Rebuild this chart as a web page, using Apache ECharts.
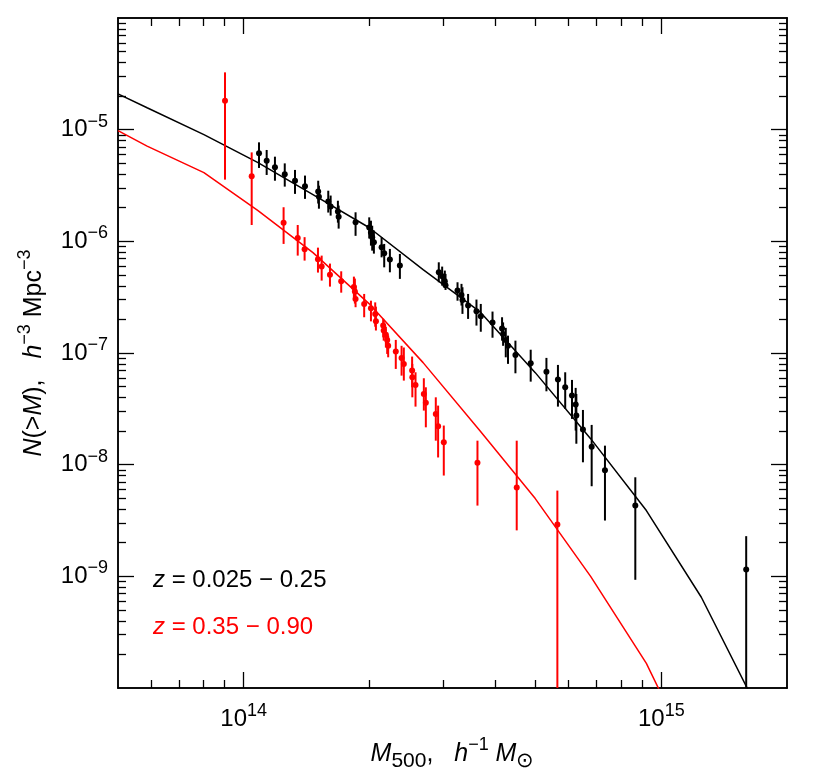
<!DOCTYPE html>
<html><head><meta charset="utf-8">
<script src="https://cdn.jsdelivr.net/npm/echarts@6/dist/echarts.min.js"></script>
<style>html,body{margin:0;padding:0;background:#fff}#c{width:830px;height:778px}</style>
</head><body><div id="c"></div>
<script>
// ---------- data (mass in units of 1e14 h^-1 Msun, N in h^3 Mpc^-3) ----------
const blackMass = [1.088,1.135,1.188,1.254,1.327,1.402,1.508,1.514,1.594,1.615,1.681,1.688,1.853,1.998,2.017,2.031,2.050,2.139,2.170,2.239,2.366,2.932,2.987,3.031,3.043,3.251,3.323,3.341,3.446,3.609,3.696,3.943,4.156,4.180,4.242,4.295,4.474,4.867,5.308,5.656,5.887,6.111,6.237,6.26,6.492,6.812,7.330,8.665,15.97];
const blackN = [6.14e-6,5.28e-6,4.60e-6,3.98e-6,3.49e-6,3.11e-6,2.79e-6,2.51e-6,2.27e-6,2.05e-6,1.85e-6,1.66e-6,1.48e-6,1.33e-6,1.20e-6,1.09e-6,9.80e-7,8.84e-7,7.81e-7,6.86e-7,6.06e-7,5.28e-7,4.86e-7,4.39e-7,4.04e-7,3.62e-7,3.31e-7,2.99e-7,2.66e-7,2.36e-7,2.13e-7,1.88e-7,1.66e-7,1.48e-7,1.31e-7,1.16e-7,9.62e-8,8.09e-8,6.81e-8,5.78e-8,4.93e-8,4.16e-8,3.45e-8,2.75e-8,2.07e-8,1.45e-8,8.91e-9,4.30e-9,1.15e-9];
const blackUpper = [7.70e-6,6.58e-6,5.73e-6,4.99e-6,4.36e-6,3.88e-6,3.49e-6,3.15e-6,2.84e-6,2.57e-6,2.31e-6,2.09e-6,1.82e-6,1.64e-6,1.53e-6,1.38e-6,1.25e-6,1.09e-6,9.48e-7,8.55e-7,7.71e-7,6.49e-7,5.94e-7,5.47e-7,5.11e-7,4.30e-7,4.16e-7,3.88e-7,3.38e-7,3.01e-7,2.75e-7,2.35e-7,2.09e-7,1.88e-7,1.68e-7,1.43e-7,1.29e-7,1.07e-7,9.04e-8,7.82e-8,6.72e-8,5.74e-8,4.87e-8,4.30e-8,3.09e-8,2.27e-8,1.48e-8,7.71e-9,2.29e-9];
const blackLower = [4.54e-6,3.93e-6,3.49e-6,3.09e-6,2.66e-6,2.40e-6,2.18e-6,1.96e-6,1.81e-6,1.70e-6,1.47e-6,1.30e-6,1.12e-6,1.06e-6,9.15e-7,8.25e-7,7.76e-7,7.19e-7,5.85e-7,5.28e-7,4.61e-7,4.30e-7,4.01e-7,3.88e-7,3.67e-7,2.94e-7,2.66e-7,2.24e-7,2.02e-7,1.76e-7,1.55e-7,1.37e-7,1.29e-7,1.16e-7,9.15e-8,7.99e-8,6.58e-8,5.54e-8,4.54e-8,3.31e-8,3.16e-8,2.57e-8,2.02e-8,1.54e-8,1.05e-8,6.41e-9,3.16e-9,9.31e-10,5e-11];

const redMass = [0.902,1.045,1.246,1.347,1.399,1.506,1.537,1.609,1.712,1.836,1.846,1.853,1.943,2.017,2.065,2.073,2.158,2.164,2.190,2.206,2.218,2.313,2.388,2.418,2.531,2.534,2.579,2.700,2.730,2.884,2.921,3.014,3.629,4.506,5.638];
const redN = [1.82e-5,3.82e-6,1.47e-6,1.07e-6,8.51e-7,6.90e-7,5.94e-7,5.03e-7,4.40e-7,3.89e-7,3.55e-7,3.05e-7,2.75e-7,2.51e-7,2.24e-7,1.92e-7,1.76e-7,1.59e-7,1.45e-7,1.31e-7,1.16e-7,1.03e-7,9.04e-8,7.99e-8,6.96e-8,6.06e-8,5.18e-8,4.30e-8,3.58e-8,2.85e-8,2.21e-8,1.59e-8,1.04e-8,6.24e-9,2.91e-9];
const redUpper = [3.26e-5,6.26e-6,2.02e-6,1.40e-6,1.09e-6,8.78e-7,7.45e-7,6.32e-7,5.39e-7,4.83e-7,4.64e-7,4.01e-7,3.38e-7,2.94e-7,2.84e-7,2.60e-7,2.03e-7,1.95e-7,1.72e-7,1.53e-7,1.43e-7,1.31e-7,1.16e-7,1.12e-7,9.29e-8,7.99e-8,6.72e-8,5.94e-8,4.93e-8,4.01e-8,3.38e-8,2.24e-8,1.64e-8,1.64e-8,5.86e-9];
const redLower = [3.57e-6,1.40e-6,9.48e-7,7.45e-7,6.72e-7,5.25e-7,4.45e-7,3.93e-7,3.47e-7,2.94e-7,2.77e-7,2.57e-7,2.09e-7,1.92e-7,1.72e-7,1.59e-7,1.38e-7,1.29e-7,1.12e-7,9.81e-8,9.15e-8,7.20e-8,6.27e-8,5.66e-8,4.93e-8,4.01e-8,3.31e-8,3.05e-8,2.16e-8,1.64e-8,1.16e-8,7.99e-9,4.30e-9,2.58e-9,5e-11];

const modelMass = [0.5,0.587,0.803,1.082,1.465,1.995,2.689,3.675,4.991,6.773,9.21,12.47,16.9];
const modelLowZ = [2.09e-5,1.57e-5,9.02e-6,5.07e-6,2.62e-6,1.33e-6,5.58e-7,2.35e-7,6.67e-8,1.71e-8,3.88e-9,6.50e-10,6.83e-11];
const modelHighZ = [9.8e-6,7.12e-6,4.12e-6,1.88e-6,7.92e-7,2.77e-7,8.20e-8,2.02e-8,4.97e-9,1.0e-9,1.66e-10,1.61e-11,1.5e-12];

const xRange = [5e13, 2e15];
const yRange = [1e-10, 1e-4];
const xMajorTicks = [1e14, 1e15];
const xMinorTicks = [6e13,7e13,8e13,9e13,2e14,3e14,4e14,5e14,6e14,7e14,8e14,9e14];
const yMajorTicks = [1e-9,1e-8,1e-7,1e-6,1e-5];
const yMinorMantissas = [2,3,4,5,6,7,8,9];
const yMinorDecades = [1e-10,1e-9,1e-8,1e-7,1e-6,1e-5];
const legendLabels = ['0.025 − 0.25', '0.35 − 0.90'];
const xTitle = '{i|M}{sub|500}{n|,   }{i|h}{sup|−1}{n| }{i|M}{sub|⊙}';
const yTitle = '{i|N}{n|(>}{i|M}{n|),   }{i|h}{sup|−3}{n| Mpc}{sup|−3}';

// ---------- build ----------
const L = Math.log10;
const MASS_UNIT = 1e14;
const FONT = "'Liberation Sans', Arial, sans-serif";
const BLACK = '#000000', RED = '#ff0000';

const yMinorTicks = [];
yMinorDecades.forEach(d => yMinorMantissas.forEach(m => yMinorTicks.push(m * d)));

const richTick = {
  b: {fontFamily: FONT, fontSize: 24, color: BLACK},
  s: {fontFamily: FONT, fontSize: 18, color: BLACK, padding: [0, 0, 16, 0]}
};
const richTitle = {
  i: {fontFamily: FONT, fontSize: 25, fontStyle: 'italic', color: BLACK},
  n: {fontFamily: FONT, fontSize: 25, color: BLACK},
  sub: {fontFamily: FONT, fontSize: 21, color: BLACK, padding: [14, 0, 0, 0]},
  sup: {fontFamily: FONT, fontSize: 18, color: BLACK, padding: [0, 0, 18, 0]}
};

function axis(kind, pos, ticks, len, label, extra) {
  const r = kind === 'x' ? xRange : yRange;
  return Object.assign({
    type: 'value', position: pos, min: L(r[0]), max: L(r[1]),
    axisLine: {show: true, onZero: false, lineStyle: {color: BLACK, width: 1.5}},
    axisTick: {show: true, inside: true, length: len, customValues: ticks.map(L),
      lineStyle: {color: BLACK, width: 1.3}},
    axisLabel: label ? Object.assign({show: true, rich: richTick}, label) : {show: false},
    splitLine: {show: false}
  }, extra || {});
}

const xAxes = [
  axis('x', 'bottom', xMajorTicks, 16, {
    customValues: xMajorTicks.map(L), margin: 14,
    formatter: v => '{b|10}{s|' + Math.round(v) + '}'
  }, {
    name: xTitle, nameLocation: 'middle', nameGap: 43,
    nameTextStyle: {fontFamily: FONT, fontSize: 25, color: BLACK, rich: richTitle}
  }),
  axis('x', 'bottom', xMinorTicks, 8, null),
  axis('x', 'top', xMajorTicks, 16, null),
  axis('x', 'top', xMinorTicks, 8, null)
];
const yAxes = [
  axis('y', 'left', yMajorTicks, 16, {
    customValues: yMajorTicks.map(L), margin: 10,
    formatter: v => '{b|10}{s|−' + Math.abs(Math.round(v)) + '}'
  }, {
    name: yTitle, nameLocation: 'middle', nameGap: 66,
    nameTextStyle: {fontFamily: FONT, fontSize: 25, color: BLACK, rich: richTitle}
  }),
  axis('y', 'left', yMinorTicks, 8, null),
  axis('y', 'right', yMajorTicks, 16, null),
  axis('y', 'right', yMinorTicks, 8, null)
];

function errData(mass, n, up, lo) {
  return mass.map((m, i) => [L(m * MASS_UNIT), L(n[i]), L(up[i]), L(lo[i])]);
}
function errSeries(name, data, color) {
  return {
    type: 'custom', name, xAxisIndex: 0, yAxisIndex: 0, clip: true, z: 3,
    data,
    renderItem: (params, api) => {
      const p = api.coord([api.value(0), api.value(1)]);
      const pu = api.coord([api.value(0), api.value(2)]);
      const pl = api.coord([api.value(0), api.value(3)]);
      return {type: 'group', children: [
        {type: 'line', shape: {x1: p[0], y1: pu[1], x2: p[0], y2: pl[1]},
          style: {stroke: color, lineWidth: 2}},
        {type: 'circle', shape: {cx: p[0], cy: p[1], r: 3}, style: {fill: color}}
      ]};
    }
  };
}
function modelSeries(name, vals, color) {
  return {
    type: 'line', name, xAxisIndex: 0, yAxisIndex: 0, showSymbol: false, symbol: 'none',
    clip: true, z: 2,
    data: modelMass.map((m, i) => [L(m * MASS_UNIT), L(vals[i])]),
    lineStyle: {color, width: 1.5}
  };
}

const legendRich = color => ({
  i: {fontFamily: FONT, fontSize: 24, fontStyle: 'italic', fill: color},
  n: {fontFamily: FONT, fontSize: 24, fill: color}
});

const chart = echarts.init(document.getElementById('c'), null, {renderer: 'canvas'});
chart.setOption({
  animation: false,
  backgroundColor: '#ffffff',
  grid: {left: 118, top: 18, width: 669, height: 670, containLabel: false},
  xAxis: xAxes,
  yAxis: yAxes,
  series: [
    modelSeries('model z=0.025-0.25', modelLowZ, BLACK),
    modelSeries('model z=0.35-0.90', modelHighZ, RED),
    errSeries('z=0.025-0.25', errData(blackMass, blackN, blackUpper, blackLower), BLACK),
    errSeries('z=0.35-0.90', errData(redMass, redN, redUpper, redLower), RED)
  ],
  graphic: [
    {type: 'text', left: 153, top: 568,
      style: {text: '{i|z}{n| = ' + legendLabels[0] + '}', rich: legendRich(BLACK), fill: BLACK}},
    {type: 'text', left: 153, top: 615,
      style: {text: '{i|z}{n| = ' + legendLabels[1] + '}', rich: legendRich(RED), fill: RED}}
  ]
});
</script></body></html>
